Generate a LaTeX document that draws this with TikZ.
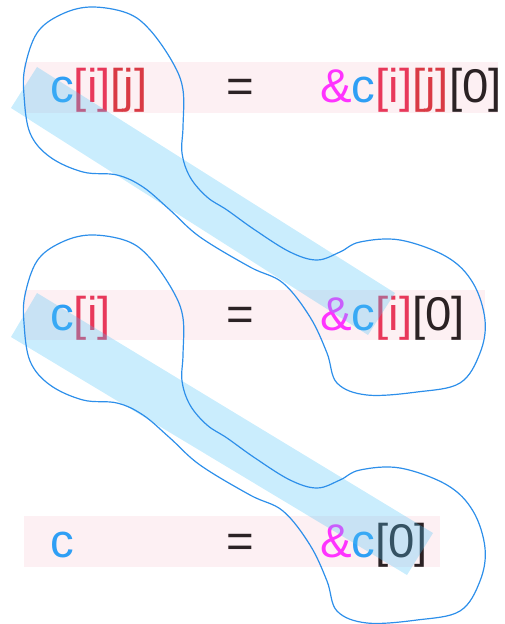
\documentclass[tikz,border=0pt]{standalone}
\usepackage{fontspec}
\setmainfont{Liberation Sans}
\definecolor{cblue}{HTML}{2F9FF5}
\definecolor{ired}{HTML}{E8385A}
\definecolor{jred}{HTML}{D93A44}
\definecolor{zdark}{HTML}{2B2224}
\definecolor{amp}{HTML}{FF33FF}
\definecolor{band}{HTML}{FDF0F3}
\definecolor{stripe}{HTML}{4FC3F7}
\definecolor{blob}{HTML}{2D8FEA}
\newcommand{\cc}{\textcolor{cblue}{c}}
\newcommand{\ii}{\textcolor{ired}{[i]}}
\newcommand{\jj}{\textcolor{jred}{[j]}}
\newcommand{\zz}{\textcolor{zdark}{[0]}}
\newcommand{\am}{\textcolor{amp}{\&}}
\tikzset{
  expr/.style={inner sep=0pt, anchor=base west, font=\fontsize{35.5}{40}\selectfont},
  bandbox/.style={fill=band, draw=none},
  stripebox/.style={fill=stripe, fill opacity=0.3, draw=none},
  blobline/.style={draw=blob, line width=0.9pt},
}
\begin{document}
\begin{tikzpicture}[x=0.75pt,y=-0.75pt]
\useasboundingbox (0,0) rectangle (504,624);
% bands
\fill[bandbox] (24,62) rectangle (498,113);
\fill[bandbox] (24,290) rectangle (485,340);
\fill[bandbox] (24,516) rectangle (440,567);
% texts
\node[expr] (l1) at (50,103) {\cc\ii\jj};
\node[expr,text=zdark] (e1) at (226,103) {=};
\node[expr] (r1) at (320,103) {\am\cc\ii\jj\zz};
\node[expr] (l2) at (50,330) {\cc\ii};
\node[expr,text=zdark] (e2) at (226,330) {=};
\node[expr] (r2) at (320,330) {\am\cc\ii\zz};
\node[expr] (l3) at (50,557) {\cc};
\node[expr,text=zdark] (e3) at (226,557) {=};
\node[expr] (r3) at (320,557) {\am\cc\zz};
% stripes
\fill[stripebox] (11,108) -- (37,67) -- (395,293) -- (368,335) -- cycle;
\fill[stripebox] (11,337) -- (37,293) -- (433,533) -- (407,575) -- cycle;
% blobs
\foreach \dy in {0,228}{
\begin{scope}[yshift=-\dy*0.75pt]
\draw[blobline] plot[smooth cycle, tension=0.6] coordinates {
 (90,7) (127,13) (150,30) (173,63) (183,90) (183,127) (182,153) (190,177) (207,197)
 (227,210) (255,230) (290,252) (317,260) (340,252) (360,242) (400,240) (447,257)
 (473,283) (485,320) (480,353) (460,383) (417,392) (367,395) (337,383) (327,353)
 (310,317) (283,283) (250,267) (200,237) (170,210) (143,187) (117,175) (83,172)
 (50,157) (30,133) (24,95) (25,67) (37,33) (60,15)};
\end{scope}}
\end{tikzpicture}
\end{document}
